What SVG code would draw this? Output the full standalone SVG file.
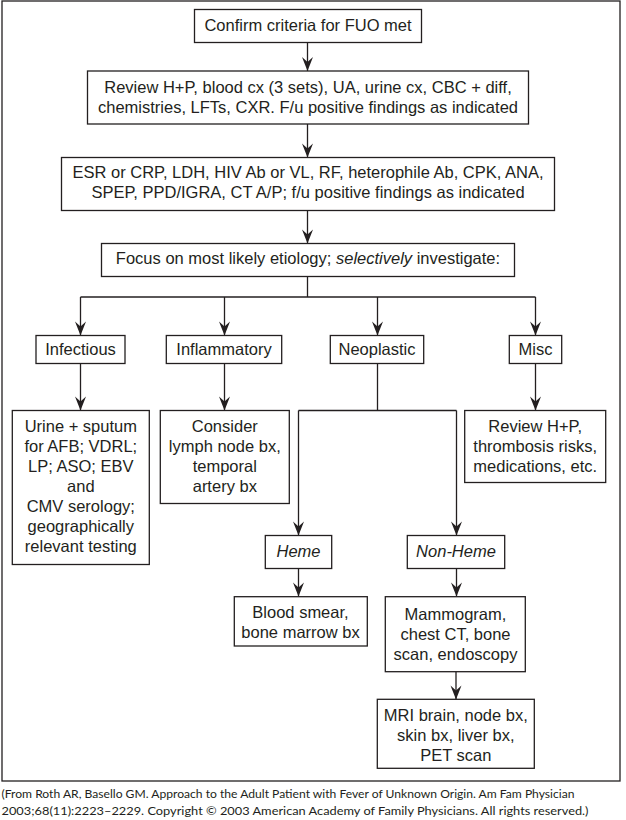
<svg xmlns="http://www.w3.org/2000/svg" width="626" height="820" viewBox="0 0 626 820">
<defs>
<style>
.box{fill:#fff;stroke:#231f20;stroke-width:1.3}
.t{font-family:"Liberation Sans",Arial,sans-serif;font-size:16.5px;fill:#231f20;text-anchor:middle}
.i{font-style:italic}
.c{fill:none;stroke:#231f20;stroke-width:1.3}
.a{marker-end:url(#arr)}
.foot{font-family:Lato,"Open Sans",sans-serif;font-size:12px;fill:#231f20}
</style>
<marker id="arr" viewBox="-15 -6 16 12" markerWidth="16" markerHeight="12" refX="0" refY="0" orient="auto" markerUnits="userSpaceOnUse">
<path d="M0,0 L-14,-5.5 L-9,0 L-14,5.5 Z" fill="#231f20"/>
</marker>
</defs>
<rect x="0" y="0" width="626" height="820" fill="#fff"/>
<rect x="2" y="1" width="618" height="780" fill="none" stroke="#231f20" stroke-width="1.3"/>

<g id="connectors">
<line class="c a" x1="307.5" y1="42.5" x2="307.5" y2="71"/>
<line class="c a" x1="307.5" y1="124" x2="307.5" y2="157.5"/>
<line class="c a" x1="307.5" y1="210.5" x2="307.5" y2="243.5"/>
<polyline class="c" points="307.5,276.5 307.5,297"/>
<line class="c" x1="80.5" y1="297" x2="535.5" y2="297"/>
<line class="c a" x1="80.5" y1="297" x2="80.5" y2="335.5"/>
<line class="c a" x1="224.5" y1="297" x2="224.5" y2="335.5"/>
<line class="c a" x1="377.5" y1="297" x2="377.5" y2="335.5"/>
<line class="c a" x1="535.5" y1="297" x2="535.5" y2="335.5"/>
<line class="c a" x1="80.5" y1="363.5" x2="80.5" y2="410.5"/>
<line class="c a" x1="224.5" y1="363.5" x2="224.5" y2="410.5"/>
<line class="c a" x1="535.5" y1="363.5" x2="535.5" y2="410.5"/>
<polyline class="c" points="377.5,363.5 377.5,410.5"/>
<line class="c" x1="298.5" y1="410.5" x2="456.5" y2="410.5"/>
<line class="c a" x1="298.5" y1="410.5" x2="298.5" y2="535.5"/>
<line class="c a" x1="456.5" y1="410.5" x2="456.5" y2="535.5"/>
<line class="c a" x1="298.5" y1="568.5" x2="298.5" y2="596.5"/>
<line class="c a" x1="456.5" y1="568.5" x2="456.5" y2="596.5"/>
<line class="c a" x1="456" y1="671.5" x2="456" y2="699.5"/>
</g>

<g id="confirm">
<rect class="box" x="194.5" y="9.5" width="227" height="33"/>
<text class="t" x="308" y="30.7">Confirm criteria for FUO met</text>
</g>
<g id="review">
<rect class="box" x="87.5" y="71" width="441" height="53"/>
<text class="t" x="308" y="93.3">Review H+P, blood cx (3 sets), UA, urine cx, CBC + diff,</text>
<text class="t" x="308" y="113.3">chemistries, LFTs, CXR. F/u positive findings as indicated</text>
</g>
<g id="esr">
<rect class="box" x="61.5" y="157.5" width="493" height="53"/>
<text class="t" x="308" y="178.3">ESR or CRP, LDH, HIV Ab or VL, RF, heterophile Ab, CPK, ANA,</text>
<text class="t" x="308" y="198.3">SPEP, PPD/IGRA, CT A/P; f/u positive findings as indicated</text>
</g>
<g id="focus">
<rect class="box" x="101.5" y="243.5" width="413" height="33"/>
<text class="t" x="308" y="264">Focus on most likely etiology; <tspan class="i">selectively</tspan> investigate:</text>
</g>
<g id="infectious">
<rect class="box" x="36" y="335.5" width="89" height="28"/>
<text class="t" x="80.5" y="355">Infectious</text>
</g>
<g id="inflammatory">
<rect class="box" x="166.3" y="335.5" width="115.4" height="28"/>
<text class="t" x="224" y="355">Inflammatory</text>
</g>
<g id="neoplastic">
<rect class="box" x="330.3" y="335.5" width="93.4" height="28"/>
<text class="t" x="377" y="355">Neoplastic</text>
</g>
<g id="misc">
<rect class="box" x="509.3" y="335.5" width="52.4" height="28"/>
<text class="t" x="535.5" y="355">Misc</text>
</g>
<g id="infectious-tests">
<rect class="box" x="12.3" y="410.5" width="137" height="154"/>
<text class="t" x="80.8" y="431.7">Urine + sputum</text>
<text class="t" x="80.8" y="451.7">for AFB; VDRL;</text>
<text class="t" x="80.8" y="471.7">LP; ASO; EBV</text>
<text class="t" x="80.8" y="491.7">and</text>
<text class="t" x="80.8" y="511.7">CMV serology;</text>
<text class="t" x="80.8" y="531.7">geographically</text>
<text class="t" x="80.8" y="551.7">relevant testing</text>
</g>
<g id="inflammatory-tests">
<rect class="box" x="160.3" y="410.5" width="129" height="93"/>
<text class="t" x="224.8" y="431.7">Consider</text>
<text class="t" x="224.8" y="451.7">lymph node bx,</text>
<text class="t" x="224.8" y="471.7">temporal</text>
<text class="t" x="224.8" y="491.7">artery bx</text>
</g>
<g id="misc-tests">
<rect class="box" x="464.7" y="410.5" width="141" height="72"/>
<text class="t" x="535.2" y="431.7">Review H+P,</text>
<text class="t" x="535.2" y="451.7">thrombosis risks,</text>
<text class="t" x="535.2" y="471.7">medications, etc.</text>
</g>
<g id="heme">
<rect class="box" x="265.3" y="535.5" width="66.4" height="33"/>
<text class="t i" x="298.5" y="556.7">Heme</text>
</g>
<g id="non-heme">
<rect class="box" x="407.3" y="535.5" width="97.4" height="33"/>
<text class="t i" x="456" y="556.7">Non-Heme</text>
</g>
<g id="heme-tests">
<rect class="box" x="234.3" y="596.7" width="133" height="49.3"/>
<text class="t" x="300.5" y="618.3">Blood smear,</text>
<text class="t" x="300.5" y="638.3">bone marrow bx</text>
</g>
<g id="nonheme-tests">
<rect class="box" x="385.3" y="596.7" width="140" height="75"/>
<text class="t" x="455.5" y="620">Mammogram,</text>
<text class="t" x="455.5" y="640">chest CT, bone</text>
<text class="t" x="455.5" y="660">scan, endoscopy</text>
</g>
<g id="nonheme-further">
<rect class="box" x="377.3" y="699.3" width="157" height="69"/>
<text class="t" x="455.8" y="720.7">MRI brain, node bx,</text>
<text class="t" x="455.8" y="740.7">skin bx, liver bx,</text>
<text class="t" x="455.8" y="760.7">PET scan</text>
</g>
<g id="footer">
<text class="foot" x="1.5" y="798.3" textLength="573" lengthAdjust="spacingAndGlyphs">(From Roth AR, Basello GM. Approach to the Adult Patient with Fever of Unknown Origin. Am Fam Physician</text>
<text class="foot" x="1.5" y="815" textLength="587" lengthAdjust="spacingAndGlyphs">2003;68(11):2223–2229. Copyright © 2003 American Academy of Family Physicians. All rights reserved.)</text>
</g>
</svg>
